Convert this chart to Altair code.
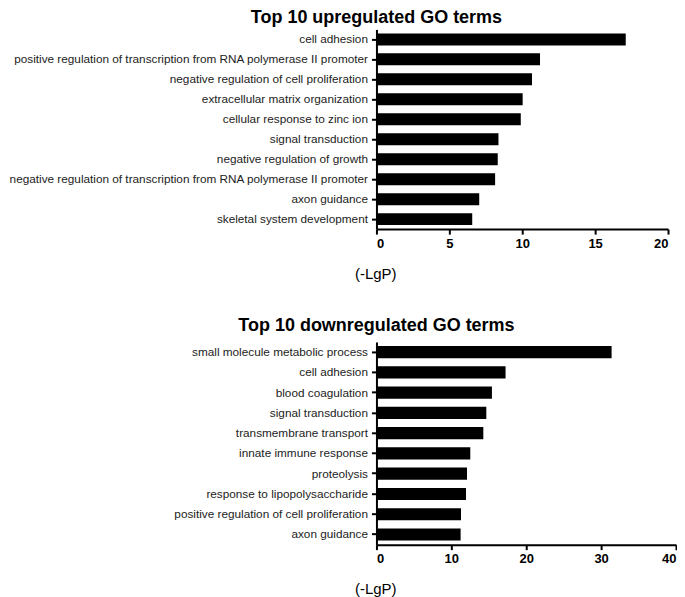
import altair as alt
import pandas as pd

up_terms = [
    "cell adhesion",
    "positive regulation of transcription from RNA polymerase II promoter",
    "negative regulation of cell proliferation",
    "extracellular matrix organization",
    "cellular response to zinc ion",
    "signal transduction",
    "negative regulation of growth",
    "negative regulation of transcription from RNA polymerase II promoter",
    "axon guidance",
    "skeletal system development",
]
up_values = [17.1, 11.22, 10.67, 10.03, 9.9, 8.37, 8.32, 8.14, 7.05, 6.57]

down_terms = [
    "small molecule metabolic process",
    "cell adhesion",
    "blood coagulation",
    "signal transduction",
    "transmembrane transport",
    "innate immune response",
    "proteolysis",
    "response to lipopolysaccharide",
    "positive regulation of cell proliferation",
    "axon guidance",
]
down_values = [31.4, 17.24, 15.42, 14.67, 14.27, 12.53, 12.09, 11.96, 11.29, 11.24]

up_ticks = [0, 5, 10, 15, 20]
down_ticks = [0, 10, 20, 30, 40]

FONT = "Liberation Sans"


def panel(terms, values, ticks, title, width, height, title_offset):
    df = pd.DataFrame({"term": terms, "value": values})
    return alt.Chart(df, title=alt.TitleParams(
        title, anchor="start", align="center", fontSize=18, fontWeight="bold",
        font=FONT, color="black", offset=title_offset, frame="group",
    )).mark_bar(color="black").encode(
        x=alt.X("value:Q", title="(-LgP)",
                scale=alt.Scale(domain=[ticks[0], ticks[-1]], nice=False),
                axis=alt.Axis(values=ticks, grid=False, domainWidth=2, domainColor="black",
                              tickWidth=2, tickColor="black", tickSize=5,
                              labelFont=FONT, labelFontSize=13, labelFontWeight="bold",
                              labelColor="black", labelPadding=3,
                              titleFont=FONT, titleFontSize=15, titleFontWeight="normal",
                              titleColor="black", titleAlign="left", titleBaseline="middle",
                              titleX=-22, titleY=44)),
        y=alt.Y("term:N", sort=None, title=None,
                scale=alt.Scale(paddingInner=0.4, paddingOuter=0.2),
                axis=alt.Axis(grid=False, domainWidth=2, domainColor="black",
                              tickWidth=2, tickColor="black", tickSize=5,
                              labelFont=FONT, labelFontSize=11.8, labelColor="#222222",
                              labelPadding=4, labelLimit=500)),
    ).properties(width=width, height=height)


top = panel(up_terms, up_values, up_ticks, "Top 10 upregulated GO terms", 292, 200, 2)
bottom = panel(down_terms, down_values, down_ticks, "Top 10 downregulated GO terms", 300, 203, 7)

chart = alt.vconcat(top, bottom, spacing=36).properties(
    padding={"left": 0, "top": 1, "right": 0, "bottom": 0}
).configure_view(stroke=None)

chart.save("out.html", embed_options={"renderer": "svg", "actions": False})
